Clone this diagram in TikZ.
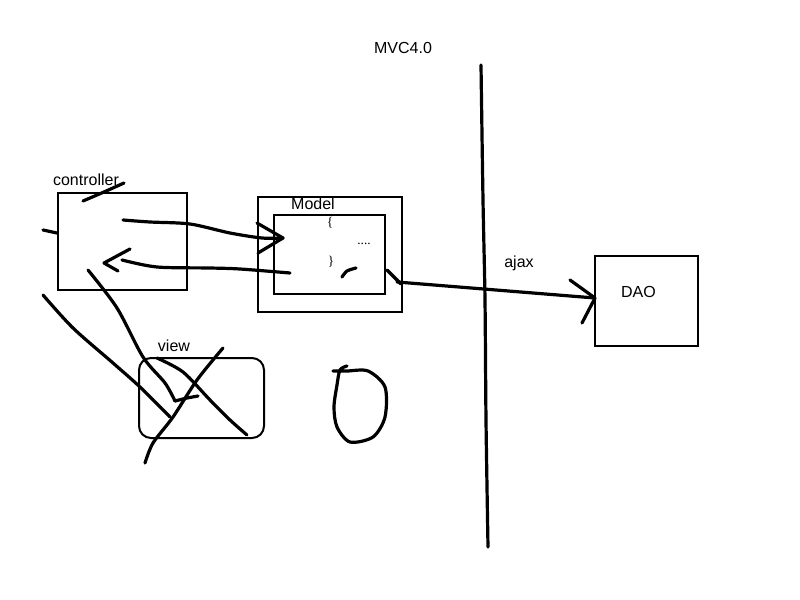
\documentclass[tikz,border=0pt]{standalone}
\usepackage{fontspec}
\setmainfont{Liberation Sans}
\newfontfamily\codefont{Liberation Serif}
\begin{document}
\begin{tikzpicture}[x=0.75pt,y=-0.75pt,
				box/.style={draw,line width=1.5pt,inner sep=0pt},
				txt/.style={font=\fontsize{12}{14}\selectfont,inner sep=0pt},
				code/.style={font=\codefont\fontsize{10}{12}\selectfont,inner sep=0pt},
				pen/.style={line width=2.4pt,line cap=round,line join=round}]
\useasboundingbox (0,0) rectangle (800,600);
\node[box,minimum width=96.75pt,minimum height=72.75pt] (ctrl) at (122.5,241.5) {};
\node[box,minimum width=108pt,minimum height=86.25pt] (model) at (330,254.5) {};
\node[box,minimum width=83.25pt,minimum height=59.25pt] (body) at (329.5,254.5) {};
\node[box,minimum width=77.25pt,minimum height=67.5pt] (dao) at (646.5,301) {};
\node[box,rounded corners=9pt,minimum width=93.75pt,minimum height=60pt] (view) at (201.5,398) {};
\node[txt] (title) at (403,48) {MVC4.0};
\node[txt] (ctrllbl) at (86,180) {controller};
\node[txt] (modellbl) at (313,204) {Model};
\node[txt] (viewlbl) at (174,346) {view};
\node[txt] (ajax) at (519,263) {ajax};
\node[txt] (daolbl) at (638.5,292) {DAO};
\node[code] (open) at (330,223) {\{};
\node[code] (dots) at (364,244) {....};
\node[code] (close) at (331,262) {\}};
\coordinate (mtip) at (283,238);
\coordinate (ctip) at (104,263);
\coordinate (dtip) at (595,298);
\draw[pen] plot[smooth] coordinates {(123,220) (150,222) (190,224) (230,233) (262,238) (mtip)};
\draw[pen] (257,223) -- (mtip) -- (258,253);
\draw[pen] plot[smooth] coordinates {(290,273) (240,269) (210,268) (157,267) (122,260)};
\draw[pen] (130,249) -- (ctip) -- (118,271);
\draw[pen] (387,270) -- (401,284);
\draw[pen] (397,282) -- (dtip);
\draw[pen] (570,280) -- (dtip) -- (582,323);
\draw[pen] plot[smooth] coordinates {(481,65) (483,200) (485,300) (486,420) (488,547)};
\draw[pen] (83,201) -- (104,192) -- (124,183);
\draw[pen] (43,230) -- (57,233);
\draw[pen] plot[smooth] coordinates {(342,277) (347,271) (356,268)};
\draw[pen] plot[smooth] coordinates {(43,295) (73,328) (113,363) (140,387) (170,417)};
\draw[pen] plot[smooth] coordinates {(88,270) (117,308) (143,357) (165,383) (175,401)};
\draw[pen] (175,401) -- (187,398) -- (198,396);
\draw[pen] plot[smooth] coordinates {(223,348) (197,380) (173,417) (153,443) (145,463)};
\draw[pen] plot[smooth] coordinates {(157,358) (183,372) (210,400) (230,420) (247,435)};
\draw[pen] plot[smooth] coordinates {(333,371) (347,371) (368,371) (385,387) (385,417) (373,437) (350,442) (337,427) (334,407) (337,385) (340,370) (347,366)};
\end{tikzpicture}
\end{document}
